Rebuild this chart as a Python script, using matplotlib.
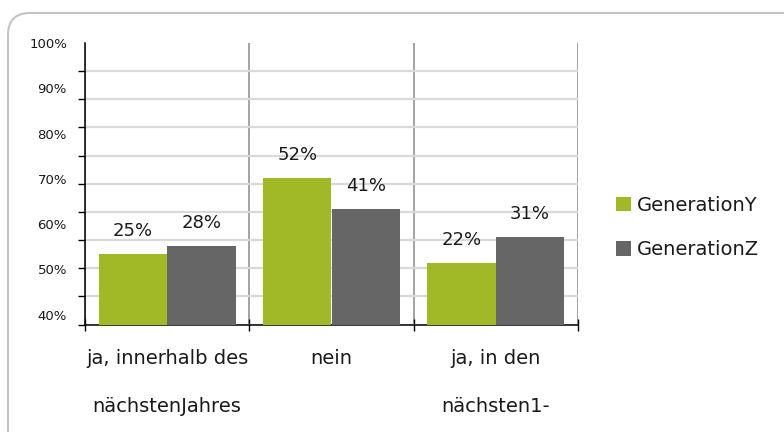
import numpy as np
import matplotlib
matplotlib.use('Agg')
import matplotlib.pyplot as plt
from matplotlib.patches import FancyBboxPatch
from matplotlib.transforms import IdentityTransform

categories = ['ja, innerhalb des\nnächstenJahres', 'nein', 'ja, in den\nnächsten1-']
gen_y = [25, 52, 22]
gen_z = [28, 41, 31]
series_names = ['GenerationY', 'GenerationZ']
ytick_labels = ['40%', '50%', '60%', '70%', '80%', '90%', '100%']

green = '#a2b927'
grey = '#666666'
text_col = '#1a1a1a'

fig = plt.figure(figsize=(7.84, 4.32), dpi=100)

# rounded frame, cut off at right and bottom like the screenshot
frame = FancyBboxPatch((8, -40), 810, 459, boxstyle='round,pad=0,rounding_size=22',
                       transform=IdentityTransform(), facecolor='none',
                       edgecolor='#c4c4c4', linewidth=1.5, zorder=-1)
fig.patches.append(frame)

ax = fig.add_axes([85 / 784, 1 - 324.5 / 432, 493 / 784, 281.5 / 432])
ax.set_facecolor('none')
ax.set_zorder(2)

x = np.arange(len(categories))
w = 0.417
b1 = ax.bar(x - w / 2, gen_y, w, color=green, label=series_names[0], zorder=3)
b2 = ax.bar(x + w / 2, gen_z, w, color=grey, label=series_names[1], zorder=3)
ax.bar_label(b1, labels=[f'{v}%' for v in gen_y], padding=10, fontsize=13, color=text_col)
ax.bar_label(b2, labels=[f'{v}%' for v in gen_z], padding=10, fontsize=13, color=text_col)

ax.set_xlim(-0.5, 2.5)
ax.set_ylim(0, 100)

# axis labels do not line up with the gridlines in the original
ax.set_yticks(np.linspace(3.5, 100, len(ytick_labels)), ytick_labels, fontsize=9.5,
              color=text_col)
ax.set_yticks(np.arange(0, 101, 10), minor=True)
ax.tick_params(axis='y', which='major', length=0, pad=13)
ax.tick_params(axis='y', which='minor', length=5, direction='out', width=1, color='black')

ax.set_xticks(x, categories, fontsize=14, linespacing=2.9, color=text_col)
ax.set_xticks(np.arange(-0.5, 3, 1), minor=True)
ax.tick_params(axis='x', which='major', length=0, pad=18)
ax.tick_params(axis='x', which='minor', length=8, direction='inout', width=1, color='black')

ax.grid(axis='y', which='minor', color='#d9d9d9', linewidth=1.6, zorder=1)
ax.grid(axis='x', which='minor', color='#8a8a8a', linewidth=1.1, zorder=1)
ax.set_axisbelow(True)

for s in ['top', 'right']:
    ax.spines[s].set_visible(False)
ax.spines['left'].set_color('black')
ax.spines['bottom'].set_color('black')
ax.spines['left'].set_linewidth(1.1)
ax.spines['bottom'].set_linewidth(1.1)

leg = fig.legend(loc='upper left', bbox_to_anchor=(616 / 784, 1 - 196 / 432), frameon=False,
                 fontsize=14, handlelength=0.75, handleheight=0.75, handletextpad=0.3,
                 labelspacing=1.3, borderpad=0, borderaxespad=0)
for t in leg.get_texts():
    t.set_color(text_col)

fig.savefig('out.png', dpi=100)
